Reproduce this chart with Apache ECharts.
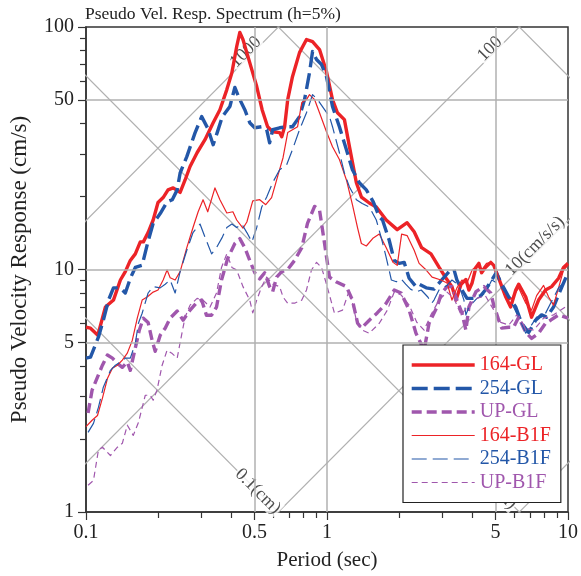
<!DOCTYPE html>
<html>
<head>
<meta charset="utf-8">
<script src="https://cdn.jsdelivr.net/npm/echarts@6/dist/echarts.min.js"></script>
<style>
  html, body { margin: 0; padding: 0; background: #fff; }
  #chart { width: 581px; height: 576px; }
</style>
</head>
<body>
<div id="chart"></div>
<script>
// ---- axis ticks ----
const periodTicksMajor = [0.1, 0.5, 1, 5, 10];
const periodTicksMinor = [0.2, 0.3, 0.4, 0.6, 0.7, 0.8, 0.9, 2, 3, 4, 6, 7, 8, 9];
const svTicksMajor = [1, 5, 10, 50, 100];
const svTicksMinor = [2, 3, 4, 6, 7, 8, 9, 20, 30, 40, 60, 70, 80, 90];
const gridPeriods = [0.5, 1, 5];
const gridSV = [5, 10, 50];

// ---- tripartite guide levels ----
const dispLevels = [0.1, 1, 10, 100];     // cm
const accLevels = [1, 10, 100, 1000];     // cm/s/s

// ---- response spectra: [period (s), pseudo velocity (cm/s)] ----
const sv164GL = [[0.1,5.78],[0.1044,5.73],[0.112,5.36],[0.1204,7.0],[0.13,7.48],[0.1389,9.05],[0.1456,9.8],[0.1527,10.9],[0.1602,11.6],[0.168,13.0],[0.173,13.0],[0.181,14.2],[0.19,16.0],[0.199,18.9],[0.209,19.8],[0.219,21.3],[0.23,21.7],[0.2458,20.8],[0.2577,23.4],[0.2703,26.6],[0.289,30.3],[0.3117,34.3],[0.337,40.3],[0.3595,45.6],[0.384,55.2],[0.403,64.8],[0.422,83.1],[0.4348,95],[0.448,88.8],[0.478,71.3],[0.511,56.8],[0.538,45.6],[0.567,38.8],[0.595,37.0],[0.636,36.7],[0.649,35.3],[0.667,38.8],[0.687,50.2],[0.719,62.4],[0.769,78.4],[0.822,88.8],[0.871,87],[0.931,80.7],[0.995,65.5],[1.054,50.2],[1.105,44.3],[1.181,41.5],[1.239,32.1],[1.324,22.8],[1.389,19.9],[1.498,18.8],[1.602,18.1],[1.761,16.0],[1.956,14.6],[2.15,15.6],[2.3,14.3],[2.47,12.3],[2.7,11.6],[2.92,10.2],[3.12,9.2],[3.3,8.5],[3.43,7.48],[3.6,8.7],[3.77,9.1],[3.88,8.23],[4.0,8.8],[4.15,10.2],[4.27,10.6],[4.38,9.7],[4.54,10.2],[4.78,10.7],[4.92,10.4],[5.16,9.2],[5.52,7.7],[5.78,7.0],[6.07,8.23],[6.24,8.7],[6.68,7.7],[7.06,6.36],[7.55,7.48],[8.07,8.23],[8.55,8.5],[9.14,9.2],[9.58,10.2],[10,10.6]];

const sv254GL = [[0.1,4.31],[0.1044,4.35],[0.1126,5.26],[0.118,6.18],[0.124,7.48],[0.13,8.4],[0.1389,8.4],[0.1456,8.0],[0.1527,9.2],[0.1602,10.2],[0.171,10.4],[0.18,12.8],[0.19,15.5],[0.2032,17.0],[0.217,19.0],[0.228,19.4],[0.239,21.3],[0.2458,25.0],[0.262,29.2],[0.2834,36.6],[0.302,42.7],[0.32,38.2],[0.337,32.7],[0.35,36.6],[0.368,42.7],[0.3954,47.0],[0.4146,56.3],[0.4348,50.2],[0.456,45.6],[0.478,40.3],[0.5014,38.4],[0.536,38.8],[0.562,37.7],[0.578,33.3],[0.595,37.7],[0.636,38.4],[0.68,38.8],[0.719,38.8],[0.769,42.7],[0.807,50.2],[0.846,64.8],[0.871,79.2],[0.905,73.4],[0.949,70.0],[0.995,62.4],[1.054,47.0],[1.126,38.8],[1.204,31.2],[1.275,25.8],[1.362,22.8],[1.456,21.3],[1.556,19.0],[1.648,16.5],[1.7,16.0],[1.812,13.2],[1.901,10.9],[1.993,10.6],[2.09,10.7],[2.192,9.2],[2.34,8.5],[2.411,8.7],[2.58,8.4],[2.78,8.3],[2.99,9.05],[3.207,9.8],[3.364,10.0],[3.46,9.05],[3.63,8.23],[3.81,7.6],[4.069,7.6],[4.35,7.8],[4.54,8.23],[4.83,9.05],[5.04,9.7],[5.31,8.7],[5.68,7.7],[6.07,7.0],[6.42,6.0],[6.87,5.5],[7.34,6.18],[7.77,6.5],[8.15,6.36],[8.71,7.0],[9.31,8.23],[10,9.7]];

const svUPGL = [[0.102,2.56],[0.106,3.18],[0.1116,3.6],[0.117,4.03],[0.1227,4.44],[0.1287,4.31],[0.135,4.1],[0.1415,3.95],[0.1484,4.15],[0.1527,3.84],[0.1587,4.56],[0.1664,5.62],[0.173,6.3],[0.181,6.05],[0.188,5.11],[0.1937,4.6],[0.2032,5.36],[0.2131,5.73],[0.2235,6.3],[0.239,6.74],[0.2528,6.18],[0.2703,6.8],[0.289,7.34],[0.302,7.48],[0.316,6.48],[0.332,6.48],[0.348,7.0],[0.365,9.05],[0.387,11.1],[0.4146,12.8],[0.4348,13.4],[0.456,12.3],[0.478,10.9],[0.5014,9.7],[0.5258,9.15],[0.5514,9.7],[0.578,8.5],[0.595,8.1],[0.618,9.3],[0.649,9.8],[0.687,10.0],[0.7335,10.9],[0.786,12.3],[0.83,15.5],[0.888,18.2],[0.931,17.6],[0.977,12.8],[1.024,9.3],[1.09,8.9],[1.204,8.5],[1.275,7.48],[1.34,6.0],[1.389,5.73],[1.498,6.18],[1.616,6.62],[1.761,7.26],[1.901,8.23],[2.03,8.0],[2.192,6.8],[2.34,5.46],[2.529,4.65],[2.652,6.0],[2.86,7.0],[2.99,8.0],[3.15,8.5],[3.3,8.5],[3.46,7.48],[3.63,6.62],[3.77,5.62],[3.88,7.0],[4.15,8.1],[4.475,8.5],[4.78,8.0],[4.92,7.13],[5.16,6.18],[5.31,5.73],[5.68,5.78],[5.95,5.78],[6.24,6.36],[6.68,5.5],[7.06,5.2],[7.55,5.46],[8.07,6.0],[8.47,6.18],[9.14,6.5],[10,6.3]];

const sv164B1F = [[0.1,2.25],[0.106,2.39],[0.1116,2.5],[0.117,2.95],[0.1227,3.55],[0.1287,3.92],[0.135,4.03],[0.1415,4.23],[0.1484,4.52],[0.1557,5.11],[0.1632,6.3],[0.171,7.48],[0.18,7.72],[0.19,8.07],[0.199,8.23],[0.209,9.05],[0.217,9.95],[0.2235,9.25],[0.2343,9.05],[0.2458,9.8],[0.262,12.3],[0.278,14.9],[0.292,17.3],[0.306,19.4],[0.32,17.3],[0.3428,21.7],[0.3595,19.4],[0.384,17.1],[0.407,17.3],[0.422,16.0],[0.448,14.8],[0.465,15.7],[0.492,19.2],[0.5258,19.4],[0.557,18.5],[0.589,19.8],[0.624,24.2],[0.657,28.9],[0.687,36.7],[0.719,37.7],[0.755,38.8],[0.786,48.8],[0.822,50.2],[0.846,52.6],[0.888,50.2],[0.931,44.3],[0.995,37.0],[1.054,32.1],[1.126,28.4],[1.204,23.4],[1.275,18.5],[1.34,14.8],[1.389,12.8],[1.456,12.5],[1.556,13.5],[1.648,14.0],[1.761,12.3],[1.88,10.7],[1.956,10.4],[2.04,14.0],[2.15,13.8],[2.3,12.0],[2.411,10.6],[2.58,9.95],[2.73,9.3],[2.97,9.05],[3.15,8.8],[3.3,7.48],[3.46,8.4],[3.63,9.05],[3.81,8.8],[4.0,9.95],[4.19,10.4],[4.38,9.95],[4.59,10.6],[4.83,10.7],[5.04,9.95],[5.31,8.4],[5.57,7.48],[5.84,7.6],[6.24,8.4],[6.68,7.26],[7.06,6.8],[7.41,7.8],[7.92,8.6],[8.31,7.7],[8.71,7.13],[9.14,8.4],[9.58,9.95],[10,10.4]];

const sv254B1F = [[0.102,2.13],[0.1074,2.32],[0.1126,2.7],[0.118,3.27],[0.1263,3.84],[0.1324,4.03],[0.1389,4.15],[0.1456,4.31],[0.1527,4.31],[0.1602,4.96],[0.165,6.0],[0.171,6.6],[0.181,8.0],[0.19,8.5],[0.2032,8.4],[0.2131,8.7],[0.2235,9.05],[0.2343,8.0],[0.2458,9.8],[0.262,12.0],[0.278,14.2],[0.2972,15.4],[0.3117,13.6],[0.332,11.6],[0.348,12.3],[0.368,13.6],[0.384,14.9],[0.403,15.4],[0.422,14.9],[0.443,15.4],[0.465,14.2],[0.488,13.0],[0.511,14.9],[0.536,18.1],[0.562,19.9],[0.595,22.8],[0.636,25.8],[0.68,27.0],[0.719,31.2],[0.769,37.7],[0.822,44.3],[0.871,52.6],[0.914,50.2],[0.977,45.6],[1.024,42.7],[1.054,38.8],[1.126,30.3],[1.181,25.0],[1.239,21.9],[1.324,19.4],[1.4,18.7],[1.498,18.1],[1.602,16.0],[1.69,13.2],[1.761,11.2],[1.85,9.05],[1.94,8.9],[2.03,9.15],[2.12,8.7],[2.22,8.3],[2.34,8.07],[2.46,8.23],[2.62,7.7],[2.72,7.26],[2.78,7.48],[2.916,8.23],[3.15,8.6],[3.3,9.05],[3.53,8.6],[3.7,7.48],[3.77,6.5],[3.88,7.0],[4.19,7.6],[4.54,8.0],[4.83,9.05],[5.16,8.7],[5.52,8.0],[5.84,7.26],[6.24,6.36],[6.68,5.46],[6.96,5.78],[7.41,6.36],[7.92,6.36],[8.47,7.26],[9.14,8.4],[10,9.2]];

const svUPB1F = [[0.102,1.29],[0.1074,1.35],[0.1126,1.8],[0.117,1.85],[0.1263,1.71],[0.135,1.85],[0.1415,1.92],[0.1484,2.28],[0.1571,2.07],[0.165,2.34],[0.1762,3.03],[0.1847,3.03],[0.19,2.89],[0.197,3.18],[0.207,4.03],[0.217,4.65],[0.228,4.5],[0.239,4.31],[0.2458,5.0],[0.2577,6.36],[0.2703,7.13],[0.289,7.6],[0.306,7.48],[0.327,7.0],[0.348,8.0],[0.365,10.2],[0.384,11.6],[0.403,10.2],[0.422,9.95],[0.448,8.5],[0.478,7.48],[0.492,6.62],[0.511,7.48],[0.536,8.5],[0.562,9.3],[0.595,8.7],[0.636,8.5],[0.657,7.7],[0.687,7.26],[0.7335,7.26],[0.786,7.48],[0.822,8.23],[0.862,9.95],[0.905,10.7],[0.949,10.2],[0.995,8.7],[1.074,6.6],[1.16,6.8],[1.239,8.23],[1.324,6.18],[1.4,5.62],[1.498,5.46],[1.648,6.0],[1.78,6.8],[1.901,8.07],[2.03,7.85],[2.192,7.13],[2.36,6.05],[2.529,5.62],[2.7,6.5],[2.916,7.48],[3.15,8.07],[3.364,7.6],[3.6,6.5],[3.88,7.13],[4.19,7.6],[4.54,7.8],[4.92,6.8],[5.26,6.05],[5.68,5.9],[6.13,6.5],[6.68,5.73],[7.2,5.62],[7.92,6.3],[8.71,6.5],[10,7.13]];

const FONT = '"Liberation Serif", "Times New Roman", serif';
const RED = '#ec2327', BLUE = '#2357a8', PURPLE = '#a057ad';
const GUIDE = '#b0b0b0';
const TWO_PI = 2 * Math.PI;

const chart = echarts.init(document.getElementById('chart'), null, { renderer: 'canvas' });

// constant-displacement lines: SV = 2*pi*SD / T
const dispSeries = dispLevels.map(sd => ({
  type: 'line', name: 'SD ' + sd, silent: true, symbol: 'none', z: 1, clip: true,
  lineStyle: { color: GUIDE, width: 1.2 },
  data: [[0.01, TWO_PI * sd / 0.01], [100, TWO_PI * sd / 100]]
}));
// constant-acceleration lines: SV = SA * T / (2*pi)
const accSeries = accLevels.map(sa => ({
  type: 'line', name: 'SA ' + sa, silent: true, symbol: 'none', z: 1, clip: true,
  lineStyle: { color: GUIDE, width: 1.2 },
  data: [[0.01, sa * 0.01 / TWO_PI], [100, sa * 100 / TWO_PI]]
}));

// labels sitting on the guide lines (offset is in the rotated text frame)
function accLabel(sa, T, text) {
  return { value: [T, sa * T / TWO_PI], label: { formatter: text, rotate: 45, offset: [5.5, -5.5] } };
}
function dispLabel(sd, T, text) {
  return { value: [T, TWO_PI * sd / T], label: { formatter: text, rotate: -45, offset: [0, 0] } };
}
const guideLabels = {
  type: 'scatter', name: 'guide labels', silent: true, symbolSize: 0, z: 2,
  label: {
    show: true, position: 'inside', fontFamily: FONT, fontSize: 18, color: '#222',
    backgroundColor: '#fff', padding: [0, 1]
  },
  data: [
    accLabel(1000, 0.46, '1000'),
    accLabel(100, 4.74, '100'),
    accLabel(10, 7.3, '10(cm/s/s)'),
    dispLabel(0.1, 0.516, '0.1(cm)'),
    dispLabel(1, 5.16, '1(cm)')
  ]
};

// grid lines at the labelled values
const gridLines = {
  type: 'line', name: 'grid', silent: true, symbol: 'none', z: 1, data: [],
  markLine: {
    silent: true, symbol: 'none', label: { show: false },
    lineStyle: { color: GUIDE, width: 1.5, type: 'solid' },
    data: gridPeriods.map(v => ({ xAxis: v })).concat(gridSV.map(v => ({ yAxis: v })))
  }
};

function spectrum(name, data, color, width, dash) {
  return {
    type: 'line', name, data, symbol: 'none', z: 3,
    itemStyle: { color },
    lineStyle: { color, width, type: dash || 'solid', cap: 'butt', join: 'round' }
  };
}

const spectra = [
  spectrum('164-GL', sv164GL, RED, 3.4),
  spectrum('254-GL', sv254GL, BLUE, 3.4, [16, 6]),
  spectrum('UP-GL', svUPGL, PURPLE, 3.4, [10, 5]),
  spectrum('164-B1F', sv164B1F, RED, 1.2),
  spectrum('254-B1F', sv254B1F, BLUE, 1.2, [15, 6]),
  spectrum('UP-B1F', svUPB1F, PURPLE, 1.2, [6, 4])
];

const axisText = { fontFamily: FONT, fontSize: 20, color: '#222' };
const fmt = v => String(v);

chart.setOption({
  animation: false,
  backgroundColor: '#fff',
  title: {
    text: 'Pseudo Vel. Resp. Spectrum (h=5%)', left: 80, top: 0,
    textStyle: { fontFamily: FONT, fontSize: 17.5, fontWeight: 'normal', color: '#222' }
  },
  grid: { left: 85, top: 27, right: 12, bottom: 64, show: true, borderColor: '#333', borderWidth: 1.5, backgroundColor: 'transparent' },
  xAxis: [
    {
      type: 'log', logBase: 10, min: 0.1, max: 10,
      name: 'Period (sec)', nameLocation: 'middle', nameGap: 38,
      nameTextStyle: { fontFamily: FONT, fontSize: 21, color: '#222' },
      axisLine: { lineStyle: { color: '#333', width: 1.5 } },
      axisTick: { show: true, length: 8, customValues: periodTicksMajor, lineStyle: { color: '#333', width: 1.2 } },
      axisLabel: Object.assign({ customValues: periodTicksMajor, margin: 11, formatter: fmt }, axisText),
      splitLine: { show: false }, minorTick: { show: false }
    },
    {
      type: 'log', logBase: 10, min: 0.1, max: 10, position: 'bottom',
      axisLine: { show: false },
      axisTick: { show: true, length: 6, customValues: periodTicksMinor, lineStyle: { color: '#333', width: 1.2 } },
      axisLabel: { show: false }, splitLine: { show: false }
    }
  ],
  yAxis: [
    {
      type: 'log', logBase: 10, min: 1, max: 100,
      name: 'Pseudo Velocity Response (cm/s)', nameLocation: 'middle', nameGap: 55, nameRotate: 90,
      nameTextStyle: { fontFamily: FONT, fontSize: 23, color: '#222' },
      axisLine: { lineStyle: { color: '#333', width: 1.5 } },
      axisTick: { show: true, length: 8, customValues: svTicksMajor, lineStyle: { color: '#333', width: 1.2 } },
      axisLabel: Object.assign({ customValues: svTicksMajor, margin: 12, formatter: fmt }, axisText),
      splitLine: { show: false }
    },
    {
      type: 'log', logBase: 10, min: 1, max: 100, position: 'left',
      axisLine: { show: false },
      axisTick: { show: true, length: 6, customValues: svTicksMinor, lineStyle: { color: '#333', width: 1.2 } },
      axisLabel: { show: false }, splitLine: { show: false }
    }
  ],
  legend: {
    orient: 'vertical', left: 403, top: 345,
    padding: [10, 10, 10, 7], itemGap: 3.5, itemWidth: 63, itemHeight: 14,
    backgroundColor: '#fff', borderColor: '#222', borderWidth: 1.2,
    selectedMode: false, z: 10,
    itemStyle: { opacity: 0 },
    lineStyle: { width: 'inherit', type: 'inherit', color: 'inherit' },
    textStyle: { fontFamily: FONT, fontSize: 20, lineHeight: 20 },
    data: [
      { name: '164-GL', textStyle: { color: RED } },
      { name: '254-GL', textStyle: { color: BLUE } },
      { name: 'UP-GL', textStyle: { color: PURPLE } },
      { name: '164-B1F', textStyle: { color: RED } },
      { name: '254-B1F', textStyle: { color: BLUE } },
      { name: 'UP-B1F', textStyle: { color: PURPLE } }
    ]
  },
  series: [gridLines].concat(dispSeries, accSeries, [guideLabels], spectra)
});
</script>
</body>
</html>
